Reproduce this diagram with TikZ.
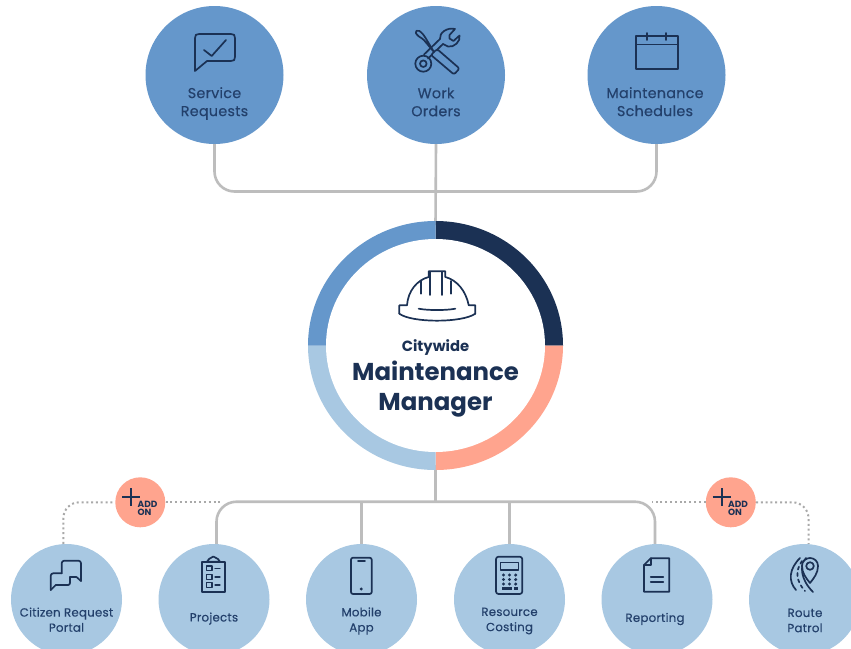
\documentclass[tikz,border=0pt]{standalone}
\usepackage{fontspec}
\setmainfont{Poppins}
\newfontfamily\medfont{Poppins}[FakeBold=0.35,LetterSpace=2]
\usetikzlibrary{shapes.geometric}
\definecolor{navy}{HTML}{1B3154}
\definecolor{midblue}{HTML}{6597CB}
\definecolor{lightblue}{HTML}{A8C8E2}
\definecolor{salmon}{HTML}{FFA48E}
\definecolor{linegray}{HTML}{BDBDBD}
\definecolor{dotgray}{HTML}{A9A9A9}
\definecolor{labelblue}{HTML}{23406B}
\tikzset{
  topcirc/.style={circle,fill=midblue,minimum size=138pt,inner sep=0pt},
  botcirc/.style={circle,fill=lightblue,minimum size=111pt,inner sep=0pt},
  addcirc/.style={circle,fill=salmon,minimum size=50pt,inner sep=0pt},
  conn/.style={draw=linegray,line width=2.6pt,rounded corners=20pt},
  dotconn/.style={draw=dotgray,line width=2pt,dash pattern=on 2pt off 2.8pt,rounded corners=16pt},
  icon/.style={draw=navy,line width=1.7pt,line join=round,line cap=round},
  toplabel/.style={text=labelblue,font=\medfont\fontsize{14.3}{18}\selectfont,align=center,inner sep=0pt},
  botlabel/.style={text=labelblue,font=\medfont\fontsize{11.8}{15.2}\selectfont,align=center,inner sep=0pt},
  addlabel/.style={text=navy,font=\fontsize{9}{9}\selectfont\bfseries,inner sep=0pt},
}
\begin{document}
\begin{tikzpicture}[x=1pt,y=-1pt]
\useasboundingbox (0,0) rectangle (851,648);
\clip (0,0) rectangle (851,648);
\fill[white] (0,0) rectangle (851,648);
% nodes
\node[topcirc] (sr) at (214.5,75) {};
\node[topcirc] (wo) at (436,75) {};
\node[topcirc] (ms) at (656.5,75) {};
\node[botcirc] (crp) at (66.5,599.5) {};
\node[botcirc] (prj) at (214,599.5) {};
\node[botcirc] (app) at (361.5,599.5) {};
\node[botcirc] (res) at (509.5,599.5) {};
\node[botcirc] (rep) at (657,599.5) {};
\node[botcirc] (rte) at (804.5,599.5) {};
\node[addcirc] (addl) at (140.3,502.3) {};
\node[addcirc] (addr) at (730.8,502.3) {};
\coordinate (topbus) at (435.5,191.5);
\coordinate (botbus) at (435.5,501.7);
% connectors
\draw[conn] (sr.south) |- (topbus) -| (ms.south);
\draw[conn,rounded corners=0pt] (wo.south) -- (435.5,225);
\draw[conn,rounded corners=0pt] (435.5,465) -- (botbus);
\draw[conn] ([xshift=2.5pt]prj.north) |- (botbus) -| ([xshift=-2pt]rep.north);
\draw[conn,rounded corners=0pt] (app.north) -- (361.5,501.7);
\draw[conn,rounded corners=0pt] (res.north) -- (509.5,501.7);
\draw[dotconn] ([xshift=-3.2pt]crp.north) |- (addl.west);
\draw[dotconn,rounded corners=0pt] (addl.east) -- (222,502.3);
\draw[dotconn,rounded corners=0pt] (addr.west) -- (652,502.3);
\draw[dotconn] (addr.east) -| ([xshift=4pt]rte.north);
% hub ring
\fill[navy] (435.5,221) arc[start angle=90,end angle=0,x radius=127.5pt,y radius=124.5pt] -- (435.5,345.5) -- cycle;
\fill[salmon] (563,345.5) arc[start angle=0,end angle=-90,x radius=127.5pt,y radius=124.5pt] -- (435.5,345.5) -- cycle;
\fill[lightblue] (435.5,470) arc[start angle=-90,end angle=-180,x radius=127.5pt,y radius=124.5pt] -- (435.5,345.5) -- cycle;
\fill[midblue] (308,345.5) arc[start angle=180,end angle=90,x radius=127.5pt,y radius=124.5pt] -- (435.5,345.5) -- cycle;
\node[ellipse,fill=white,minimum width=219pt,minimum height=213pt,inner sep=0pt] (hub) at (435.5,345.5) {};
% hub text
\node[text=navy,font=\fontsize{14.8}{16}\selectfont\bfseries,inner sep=0pt,anchor=base] (hubA) at (435.5,351.5) {Citywide};
\node[text=navy,font=\fontsize{24.4}{26}\selectfont\bfseries,inner sep=0pt,anchor=base] (hubB) at (435.5,380.7) {Maintenance};
\node[text=navy,font=\fontsize{24.4}{26}\selectfont\bfseries,inner sep=0pt,anchor=base] (hubC) at (435.5,410.5) {Manager};
% labels
\node[toplabel] (lsr) at (214.5,103.5) {Service\\Requests};
\node[toplabel] (lwo) at (436,102) {Work\\Orders};
\node[toplabel] (lms) at (655,101.7) {Maintenance\\Schedules};
\node[botlabel] (lcrp) at (66.5,619.7) {Citizen Request\\Portal};
\node[botlabel] (lprj) at (214,618.5) {Projects};
\node[botlabel] (lapp) at (361.5,621) {Mobile\\App};
\node[botlabel] (lres) at (509.5,621) {Resource\\Costing};
\node[botlabel] (lrep) at (655,619) {Reporting};
\node[botlabel] (lrte) at (805,620.5) {Route\\Patrol};
% add-on badges
\foreach \dx/\nm in {0/a,590.5/b}{
  \begin{scope}[xshift=\dx pt]
  \draw[navy,line width=2pt] (122,496.7) -- (140,496.7) (131,488) -- (131,505.5);
  \node[addlabel] (add\nm) at (147.5,504) {ADD};
  \node[addlabel] (on\nm) at (144.5,512.5) {ON};
  \end{scope}
}
% icon: service request
\draw[icon] (195,71) -- (195,38) .. controls (195,35) and (196,34) .. (199,34) -- (231,34) .. controls (234,34) and (235,35) .. (235,38) -- (235,57) .. controls (235,60) and (234,61) .. (231,61) -- (207,61) -- cycle;
\draw[icon] (204,50) -- (211.7,56) -- (226,40);
% icon: calendar
\draw[icon] (636,35.7) rectangle (678,69.3);
\draw[icon] (636,44.5) -- (678,44.5) (647.3,33) -- (647.3,40) (665.7,33) -- (665.7,40);
% icon: tools
\draw[icon] (428,58.5) -- (443,44) (424,54.5) -- (440,39);
\draw[icon] (440,39) .. controls (439,33) and (447,27) .. (455,29) -- (449.5,35) -- (449.5,38.5) -- (453.5,41) -- (459.5,35.5) .. controls (461,41) and (454,48) .. (448,46.5) -- (443,44);
\draw[icon] (423.3,63.7) circle[radius=8pt];
\draw[icon] (423.3,63.7) circle[radius=3.3pt];
\draw[icon,fill=midblue,rounded corners=2pt] (437,49) -- (459.5,68.5) -- (454,74.5) -- (431,55) -- cycle;
\draw[icon,rounded corners=1.5pt] (434,52) -- (423,39) -- (418,36) -- (415,32) -- (418,30) -- (422,33) -- (425,37) -- (434,52);
% icon: hard hat
\draw[icon] (399.3,313.7) -- (399.3,305.3) -- (407,305.3) .. controls (408,291) and (417,280) .. (428.7,277) -- (428.7,271.3) -- (445.3,271.3) -- (445.3,277) .. controls (457,280) and (466,291) .. (468.7,305.3) -- (475.3,305.3) -- (475.3,313.7);
\draw[icon] (399.3,313.7) .. controls (412,323) and (462,323) .. (475.3,313.7);
\draw[icon] (421.3,281) -- (421.3,293.7) (430.3,272) -- (430.3,295) (442,272) -- (442,295) (451.3,281) -- (451.3,293.7);
\draw[icon] (418.7,308.7) .. controls (428,310.5) and (446,310.5) .. (455.3,308.7);
% icon: chat bubbles
\draw[icon,rounded corners=2.5pt] (61.7,573.3) -- (61.7,560.7) -- (81,560.7) -- (81,581);
\draw[icon] (81,581) -- (76.5,577) -- (70,577);
\draw[icon,rounded corners=2.5pt] (61.7,573.3) -- (50.7,573.3) -- (50.7,590);
\draw[icon] (50.7,590) -- (55.7,585) -- (68,585);
\draw[icon,rounded corners=2pt] (66,585) -- (70,585) -- (70,577);
% icon: clipboard
\draw[icon] (201.7,561.7) rectangle (225,592.3);
\draw[icon] (207,561.7) -- (209,559) -- (213.3,556.5) -- (218,559) -- (220,561.7) -- cycle;
\foreach \yy in {568.3,577,585}{
  \draw[icon,line width=1.3pt] (206.7,\yy-2.3) rectangle (212,\yy+2.3);
  \draw[icon,line width=1.3pt] (215,\yy) -- (220,\yy);
}
% icon: phone
\draw[icon,rounded corners=2pt] (351,557.7) rectangle (371.7,594);
\draw[icon] (358,561) -- (365,561);
\fill[navy] (361.3,589) circle[radius=1.6pt];
% icon: calculator
\draw[icon,rounded corners=2.5pt] (496,556.7) rectangle (522.3,594);
\draw[icon,line width=1.3pt] (500.7,562.3) rectangle (518.3,570);
\foreach \xx in {503.5,509.5,515.7}{\foreach \yy in {575,579.5,584}{\fill[navy] (\xx,\yy) circle[radius=1.7pt];}}
\fill[navy] (514,586.7) rectangle (517.5,590);
\fill[navy] (502,587) rectangle (512,590);
% icon: document
\draw[icon] (650.7,558.3) -- (669.3,558.3) -- (669.3,591.7) -- (644,591.7) -- (644,565) -- cycle;
\draw[icon] (650.7,558.3) -- (650.7,565) -- (644,565);
\draw[icon] (650.7,577.3) -- (663.3,577.3) (650.7,582.3) -- (663.3,582.3);
% icon: route
\draw[icon] (800,558) .. controls (789,569) and (788,581) .. (796,590);
\draw[icon,dash pattern=on 3pt off 3.5pt] (802,561) .. controls (795,571) and (796,581) .. (805,591);
\draw[icon] (806,558) .. controls (799,566) and (801,580) .. (813,592);
\draw[icon,fill=lightblue] (810,583) .. controls (806,578) and (802,573) .. (802,566) .. controls (802,561) and (806,558) .. (810,558) .. controls (814,558) and (818,561) .. (818,566) .. controls (818,573) and (814,578) .. (810,583) -- cycle;
\draw[icon] (810,566) circle[radius=3.8pt];
\end{tikzpicture}
\end{document}
